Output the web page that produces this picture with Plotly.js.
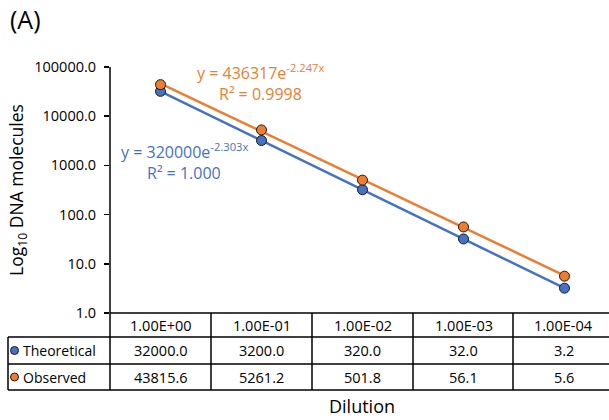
<!DOCTYPE html>
<html>
<head>
<meta charset="utf-8">
<script src="https://cdn.plot.ly/plotly-3.0.1.min.js"></script>
<style>
  html, body { margin: 0; padding: 0; background: #fff; }
  #chart { width: 609px; height: 420px; }
</style>
</head>
<body>
<div id="chart"></div>
<script>
// Dilution series and measured copy numbers
const dilutions = ['1.00E+00', '1.00E-01', '1.00E-02', '1.00E-03', '1.00E-04'];
const theoretical = [32000.0, 3200.0, 320.0, 32.0, 3.2];
const observed = [43815.6, 5261.2, 501.8, 56.1, 5.6];
const seriesNames = ['Theoretical', 'Observed'];

// Exponential trendline coefficients: y = a * e^(b * x), x = 1..n
const theoFit = [320000, -2.303];
const obsFit = [436317, -2.247];
const theoR2 = '1.000';
const obsR2 = '0.9998';

const BLUE = '#4472C4';
const ORANGE = '#ED7D31';
const EDGE = '#1a1a1a';
const FONT = 'Open Sans, sans-serif';

// Plot area geometry in pixels (used to place table and labels in paper units)
const L = 110, R = 609, T = 67, B = 313;
const px = v => (v - L) / (R - L);
const py = v => (B - v) / (B - T);

const idx = dilutions.map((_, i) => i);
const fitLine = f => idx.map(i => f[0] * Math.exp(f[1] * (i + 1)));

const traces = [
  { x: idx, y: fitLine(theoFit), mode: 'lines', line: { color: BLUE, width: 2.5 }, hoverinfo: 'skip', showlegend: false },
  { x: idx, y: fitLine(obsFit), mode: 'lines', line: { color: ORANGE, width: 2.5 }, hoverinfo: 'skip', showlegend: false },
  { x: idx, y: theoretical, name: seriesNames[0], mode: 'markers', cliponaxis: false,
    marker: { color: BLUE, size: 10, line: { color: EDGE, width: 1 } }, showlegend: false },
  { x: idx, y: observed, name: seriesNames[1], mode: 'markers', cliponaxis: false,
    marker: { color: ORANGE, size: 10, line: { color: EDGE, width: 1 } }, showlegend: false }
];

// Data table beneath the plot
const colEdges = [110, 211, 312, 413, 513];
const shapes = [];
const line = (x0, y0, x1, y1) => shapes.push({
  type: 'line', xref: 'paper', yref: 'paper',
  x0: px(x0), y0: py(y0), x1: px(x1), y1: py(y1),
  line: { color: '#000', width: 1.5 }
});
line(L, T, L, 390);              // value axis, continuing through the table
line(L, 313, R, 313);            // category axis / table top
line(8, 337, R, 337);
line(8, 364, R, 364);
line(8, 390, R, 390);
line(8, 337, 8, 390);
colEdges.slice(1).forEach(c => line(c, 313, c, 390));

// Series keys in the table
const key = (cx, cy, color) => shapes.push({
  type: 'circle', xref: 'paper', yref: 'paper',
  x0: px(cx - 4), x1: px(cx + 4), y0: py(cy + 4), y1: py(cy - 4),
  fillcolor: color, line: { color: EDGE, width: 1 }
});
key(14.5, 350.5, BLUE);
key(14.5, 377, ORANGE);

const annotations = [];
const text = (t, x, y, opts = {}) => annotations.push(Object.assign({
  text: t, xref: 'paper', yref: 'paper', x: px(x), y: py(y),
  xanchor: 'center', yanchor: 'middle', showarrow: false,
  font: { family: FONT, size: 14.5, color: '#000' }
}, opts));

const colCenters = colEdges.map(c => c + 50.5);
dilutions.forEach((d, i) => text(d, colCenters[i], 325));
theoretical.forEach((v, i) => text(v.toFixed(1), colCenters[i], 350.5));
observed.forEach((v, i) => text(v.toFixed(1), colCenters[i], 377));
text(seriesNames[0], 21, 350.5, { xanchor: 'left', font: { family: FONT, size: 14, color: '#000' } });
text(seriesNames[1], 21, 377, { xanchor: 'left', font: { family: FONT, size: 14, color: '#000' } });

// Trendline equations
const eq = (f, r2, x, y1, y2, color) => {
  text('y = ' + f[0] + 'e<sup>' + f[1].toFixed(3) + 'x</sup>', x, y1, { font: { family: FONT, size: 16, color } });
  text('R\u00b2 = ' + r2, x, y2, { font: { family: FONT, size: 16, color } });
};
eq(obsFit, obsR2, 260, 72, 94, ORANGE);
eq(theoFit, theoR2, 184, 151, 173, BLUE);

// Panel letter and axis titles
text('(A)', 25, 19, { font: { family: FONT, size: 25, color: '#000' } });
text('Dilution', 362, 406, { font: { family: FONT, size: 18, color: '#000' } });
text('Log<sub>10</sub> DNA molecules', 17, 190, { textangle: -90, font: { family: FONT, size: 17.5, color: '#000' } });

const yTicks = [1, 10, 100, 1000, 10000, 100000];

const layout = {
  width: 609, height: 420,
  margin: { l: L, r: 609 - R, t: T, b: 420 - B, pad: 0 },
  paper_bgcolor: '#fff', plot_bgcolor: '#fff',
  showlegend: false,
  xaxis: {
    range: [-0.5, -0.5 + (R - L) / 101], showgrid: false, zeroline: false,
    showline: false, showticklabels: false, ticks: '', fixedrange: true
  },
  yaxis: {
    type: 'log', range: [0, 5], showgrid: false, zeroline: false, showline: false,
    tickvals: yTicks, ticktext: yTicks.map(v => v.toFixed(1)),
    ticks: 'outside', ticklen: 5, tickwidth: 1.5, tickcolor: '#000', ticklabelstandoff: 5,
    tickfont: { family: FONT, size: 14.5, color: '#000' }, fixedrange: true
  },
  shapes, annotations
};

Plotly.newPlot('chart', traces, layout, { displayModeBar: false, staticPlot: true });
</script>
</body>
</html>
